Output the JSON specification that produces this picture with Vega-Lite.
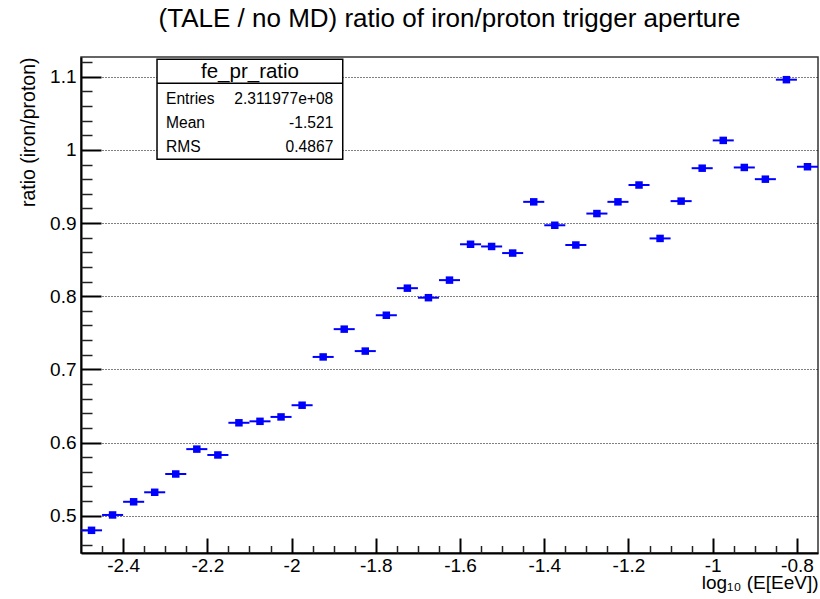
{
  "$schema": "https://vega.github.io/schema/vega-lite/v6.json",
  "width": 737,
  "height": 496,
  "autosize": "none",
  "padding": {"left": 81, "top": 57, "right": 2, "bottom": 46},
  "title": {
    "text": "(TALE / no MD) ratio of iron/proton trigger aperture",
    "fontSize": 26,
    "font": "Liberation Sans",
    "fontWeight": "normal",
    "color": "#000",
    "anchor": "middle",
    "frame": "group",
    "baseline": "alphabetic",
    "offset": 4
  },
  "config": {
    "view": {"stroke": "#333", "strokeWidth": 1.5},
    "font": "Liberation Sans"
  },
  "datasets": {
    "hist": [
      {"lo": -2.50, "hi": -2.45, "center": -2.475, "ratio": 0.480},
      {"lo": -2.45, "hi": -2.40, "center": -2.425, "ratio": 0.501},
      {"lo": -2.40, "hi": -2.35, "center": -2.375, "ratio": 0.519},
      {"lo": -2.35, "hi": -2.30, "center": -2.325, "ratio": 0.532},
      {"lo": -2.30, "hi": -2.25, "center": -2.275, "ratio": 0.557},
      {"lo": -2.25, "hi": -2.20, "center": -2.225, "ratio": 0.591},
      {"lo": -2.20, "hi": -2.15, "center": -2.175, "ratio": 0.583},
      {"lo": -2.15, "hi": -2.10, "center": -2.125, "ratio": 0.627},
      {"lo": -2.10, "hi": -2.05, "center": -2.075, "ratio": 0.629},
      {"lo": -2.05, "hi": -2.00, "center": -2.025, "ratio": 0.635},
      {"lo": -2.00, "hi": -1.95, "center": -1.975, "ratio": 0.651},
      {"lo": -1.95, "hi": -1.90, "center": -1.925, "ratio": 0.717},
      {"lo": -1.90, "hi": -1.85, "center": -1.875, "ratio": 0.755},
      {"lo": -1.85, "hi": -1.80, "center": -1.825, "ratio": 0.725},
      {"lo": -1.80, "hi": -1.75, "center": -1.775, "ratio": 0.774},
      {"lo": -1.75, "hi": -1.70, "center": -1.725, "ratio": 0.811},
      {"lo": -1.70, "hi": -1.65, "center": -1.675, "ratio": 0.798},
      {"lo": -1.65, "hi": -1.60, "center": -1.625, "ratio": 0.822},
      {"lo": -1.60, "hi": -1.55, "center": -1.575, "ratio": 0.871},
      {"lo": -1.55, "hi": -1.50, "center": -1.525, "ratio": 0.868},
      {"lo": -1.50, "hi": -1.45, "center": -1.475, "ratio": 0.859},
      {"lo": -1.45, "hi": -1.40, "center": -1.425, "ratio": 0.929},
      {"lo": -1.40, "hi": -1.35, "center": -1.375, "ratio": 0.897},
      {"lo": -1.35, "hi": -1.30, "center": -1.325, "ratio": 0.870},
      {"lo": -1.30, "hi": -1.25, "center": -1.275, "ratio": 0.913},
      {"lo": -1.25, "hi": -1.20, "center": -1.225, "ratio": 0.929},
      {"lo": -1.20, "hi": -1.15, "center": -1.175, "ratio": 0.952},
      {"lo": -1.15, "hi": -1.10, "center": -1.125, "ratio": 0.879},
      {"lo": -1.10, "hi": -1.05, "center": -1.075, "ratio": 0.930},
      {"lo": -1.05, "hi": -1.00, "center": -1.025, "ratio": 0.975},
      {"lo": -1.00, "hi": -0.95, "center": -0.975, "ratio": 1.013},
      {"lo": -0.95, "hi": -0.90, "center": -0.925, "ratio": 0.976},
      {"lo": -0.90, "hi": -0.85, "center": -0.875, "ratio": 0.960},
      {"lo": -0.85, "hi": -0.80, "center": -0.825, "ratio": 1.096},
      {"lo": -0.80, "hi": -0.75, "center": -0.775, "ratio": 0.977}
    ],
    "stats": [
      {"name": "fe_pr_ratio", "labels": "Entries\nMean\nRMS", "values": "2.311977e+08\n-1.521\n0.4867"}
    ]
  },
  "layer": [
    {
      "data": {"name": "hist"},
      "mark": {"type": "rule", "color": "#0000ff", "strokeWidth": 2},
      "encoding": {
        "x": {
          "field": "lo", "type": "quantitative",
          "scale": {"domain": [-2.5, -0.75], "nice": false, "zero": false},
          "axis": {
            "orient": "bottom",
            "values": [-2.4, -2.2, -2, -1.8, -1.6, -1.4, -1.2, -1, -0.8],
            "tickSize": -15, "tickWidth": 2, "tickColor": "#000",
            "domainColor": "#000", "domainWidth": 2,
            "labelFontSize": 19, "labelFont": "Liberation Sans", "labelColor": "#000",
            "labelPadding": 33, "labelBaseline": "alphabetic",
            "labelFlush": false, "labelOverlap": false,
            "labelExpr": "'' + datum.value",
            "grid": false,
            "title": "log₁₀ (E[EeV])",
            "titleFont": "Liberation Sans", "titleFontSize": 19, "titleFontWeight": "normal", "titleColor": "#000",
            "titleAnchor": "end", "titleAlign": "right", "titleBaseline": "alphabetic",
            "titleX": 737, "titleY": 35
          }
        },
        "x2": {"field": "hi"},
        "y": {
          "field": "ratio", "type": "quantitative",
          "scale": {"domain": [0.449, 1.127], "nice": false, "zero": false},
          "axis": {
            "orient": "left",
            "values": [0.5, 0.6, 0.7, 0.8, 0.9, 1, 1.1],
            "tickSize": -20, "tickWidth": 2, "tickColor": "#000",
            "domainColor": "#000", "domainWidth": 2,
            "labelFontSize": 19, "labelFont": "Liberation Sans", "labelColor": "#000",
            "labelPadding": 25, "labelFlush": false, "labelOverlap": false,
            "labelExpr": "'' + datum.value",
            "grid": true, "gridDash": [1, 2], "gridColor": "#000", "gridWidth": 1,
            "title": "ratio (iron/proton)",
            "titleFont": "Liberation Sans", "titleFontSize": 19.5, "titleFontWeight": "normal", "titleColor": "#000",
            "titleAngle": -90, "titleAlign": "right", "titleBaseline": "middle",
            "titleX": -53, "titleY": 0
          }
        }
      }
    },
    {
      "data": {"name": "hist"},
      "mark": {"type": "point", "shape": "square", "filled": true, "size": 56, "color": "#0000ff", "opacity": 1},
      "encoding": {
        "x": {
          "field": "center", "type": "quantitative",
          "scale": {"domain": [-2.5, -0.75], "nice": false, "zero": false},
          "axis": {
            "orient": "bottom",
            "values": [-2.45, -2.35, -2.3, -2.25, -2.15, -2.1, -2.05, -1.95, -1.9, -1.85, -1.75, -1.7, -1.65, -1.55, -1.5, -1.45, -1.35, -1.3, -1.25, -1.15, -1.1, -1.05, -0.95, -0.9, -0.85],
            "tickSize": -7.5, "tickWidth": 1.5, "tickColor": "#222",
            "labels": false, "domain": false, "grid": false, "title": null
          }
        },
        "y": {
          "field": "ratio", "type": "quantitative",
          "scale": {"domain": [0.449, 1.127], "nice": false, "zero": false},
          "axis": {
            "orient": "left",
            "values": [0.46, 0.48, 0.52, 0.54, 0.56, 0.58, 0.62, 0.64, 0.66, 0.68, 0.72, 0.74, 0.76, 0.78, 0.82, 0.84, 0.86, 0.88, 0.92, 0.94, 0.96, 0.98, 1.02, 1.04, 1.06, 1.08, 1.12],
            "tickSize": -11, "tickWidth": 1.5, "tickColor": "#222",
            "labels": false, "domain": false, "grid": false, "title": null
          }
        }
      }
    },
    {
      "data": {"name": "stats"},
      "mark": {"type": "rect", "fill": "white", "stroke": "#000", "strokeWidth": 1.5},
      "encoding": {
        "x": {"datum": -2.3195, "type": "quantitative", "axis": null},
        "x2": {"datum": -1.8785},
        "y": {"datum": 1.1239, "type": "quantitative", "axis": null},
        "y2": {"datum": 0.9872}
      }
    },
    {
      "data": {"name": "stats"},
      "mark": {"type": "rule", "stroke": "#000", "strokeWidth": 1.5},
      "encoding": {
        "x": {"datum": -2.3195, "type": "quantitative", "axis": null},
        "x2": {"datum": -1.8785},
        "y": {"datum": 1.091, "type": "quantitative", "axis": null}
      }
    },
    {
      "data": {"name": "stats"},
      "mark": {"type": "text", "align": "center", "baseline": "alphabetic", "fontSize": 20.5, "font": "Liberation Sans", "color": "#000"},
      "encoding": {
        "x": {"datum": -2.0987, "type": "quantitative", "axis": null},
        "y": {"datum": 1.0983, "type": "quantitative", "axis": null},
        "text": {"field": "name", "type": "nominal"}
      }
    },
    {
      "data": {"name": "stats"},
      "mark": {"type": "text", "align": "left", "baseline": "alphabetic", "fontSize": 15.6, "font": "Liberation Sans", "color": "#000", "lineBreak": "\n", "lineHeight": 24.2},
      "encoding": {
        "x": {"datum": -2.2981, "type": "quantitative", "axis": null},
        "y": {"datum": 1.0628, "type": "quantitative", "axis": null},
        "text": {"field": "labels", "type": "nominal"}
      }
    },
    {
      "data": {"name": "stats"},
      "mark": {"type": "text", "align": "right", "baseline": "alphabetic", "fontSize": 15.6, "font": "Liberation Sans", "color": "#000", "lineBreak": "\n", "lineHeight": 24.2},
      "encoding": {
        "x": {"datum": -1.9009, "type": "quantitative", "axis": null},
        "y": {"datum": 1.0628, "type": "quantitative", "axis": null},
        "text": {"field": "values", "type": "nominal"}
      }
    }
  ],
  "resolve": {"axis": {"x": "independent", "y": "independent"}}
}
